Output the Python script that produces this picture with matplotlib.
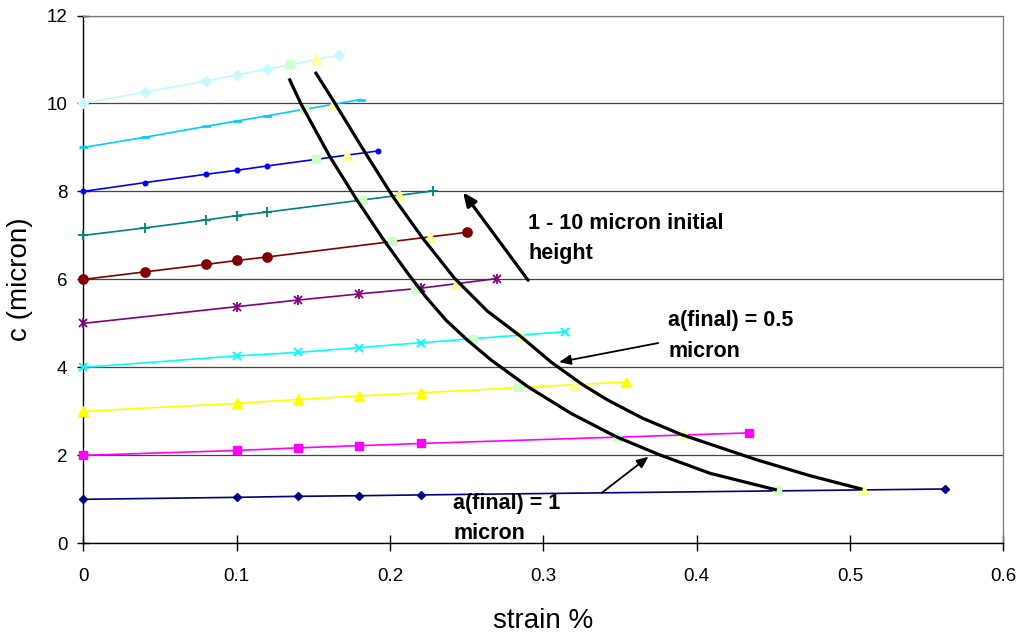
import matplotlib
matplotlib.use("Agg")
import matplotlib.pyplot as plt
import numpy as np

plt.rcParams['font.family'] = ['Liberation Sans', 'DejaVu Sans']

# ---- data: strain (x) and c in micron (y) for initial heights 1..10 micron ----
strain_h1 = [0, 0.1, 0.14, 0.18, 0.22, 0.562]
c_h1 = [1.0, 1.045, 1.068, 1.082, 1.10, 1.235]
strain_h2 = [0, 0.1, 0.14, 0.18, 0.22, 0.434]
c_h2 = [2.0, 2.11, 2.17, 2.22, 2.27, 2.51]
strain_h3 = [0, 0.1, 0.14, 0.18, 0.22, 0.354]
c_h3 = [3.0, 3.18, 3.27, 3.35, 3.42, 3.67]
strain_h4 = [0, 0.1, 0.14, 0.18, 0.22, 0.314]
c_h4 = [4.0, 4.26, 4.34, 4.45, 4.56, 4.81]
strain_h5 = [0, 0.1, 0.14, 0.18, 0.22, 0.27]
c_h5 = [5.0, 5.38, 5.53, 5.67, 5.80, 6.02]
strain_h6 = [0, 0.04, 0.08, 0.1, 0.12, 0.25]
c_h6 = [6.0, 6.17, 6.34, 6.43, 6.51, 7.07]
strain_h7 = [0, 0.04, 0.08, 0.1, 0.12, 0.228]
c_h7 = [7.0, 7.17, 7.35, 7.45, 7.53, 8.01]
strain_h8 = [0, 0.04, 0.08, 0.1, 0.12, 0.192]
c_h8 = [8.0, 8.20, 8.39, 8.48, 8.58, 8.92]
strain_h9 = [0, 0.04, 0.08, 0.1, 0.12, 0.181]
c_h9 = [9.0, 9.23, 9.48, 9.60, 9.72, 10.09]
strain_h10 = [0, 0.04, 0.08, 0.1, 0.12, 0.167]
c_h10 = [10.0, 10.26, 10.51, 10.65, 10.78, 11.10]

# intersection points: a(final) = 1 micron (squares) and 0.5 micron (triangles)
strain_a1 = [0.4523, 0.348, 0.2838, 0.2544, 0.2164, 0.201, 0.182, 0.1518, 0.1442, 0.1347]
c_a1 = [1.21, 2.42, 3.56, 4.64, 5.78, 6.87, 7.80, 8.73, 9.88, 10.89]
strain_a05 = [0.5082, 0.3918, 0.3203, 0.2855, 0.243, 0.226, 0.206, 0.172, 0.163, 0.152]
c_a05 = [1.227, 2.48, 3.60, 4.73, 5.89, 6.97, 7.93, 8.83, 9.98, 11.0]

# hand-drawn guide curves
curve1_x = [0.1342, 0.1418, 0.1609, 0.1785, 0.1960, 0.2115, 0.2235, 0.2365, 0.2505,
            0.2660, 0.2900, 0.3180, 0.3475, 0.3762, 0.4088, 0.4523]
curve1_y = [10.57, 10.00, 8.786, 7.802, 6.893, 6.143, 5.598, 5.075, 4.620,
            4.166, 3.559, 2.955, 2.423, 2.007, 1.591, 1.211]
curve2_x = [0.1512, 0.1642, 0.1831, 0.2020, 0.2213, 0.2420, 0.2635, 0.2850, 0.3051,
            0.3259, 0.3420, 0.3645, 0.3897, 0.4397, 0.4735, 0.5082]
curve2_y = [10.718, 10.0, 8.923, 7.877, 6.939, 6.030, 5.280, 4.711, 4.120,
            3.600, 3.257, 2.848, 2.477, 1.893, 1.541, 1.227]

x_ticks = [0, 0.1, 0.2, 0.3, 0.4, 0.5, 0.6]
x_tick_labels = ['0', '0.1', '0.2', '0.3', '0.4', '0.5', '0.6']
y_ticks = [0, 2, 4, 6, 8, 10, 12]
y_tick_labels = ['0', '2', '4', '6', '8', '10', '12']

fig = plt.figure(figsize=(10.21, 6.42), dpi=100)
W, H = 1021, 642
ax = fig.add_axes([83.3 / W, 1 - 543.3 / H, 920 / W, 527.8 / H])

dash = [(-1, -0.35), (1, -0.35), (1, 0.35), (-1, 0.35)]

series = [
    (strain_h1, c_h1, '#000080', 'D', 4.2, 1.0),
    (strain_h2, c_h2, '#FF00FF', 's', 6.3, 1.0),
    (strain_h3, c_h3, '#FFFF00', '^', 7.0, 1.0),
    (strain_h4, c_h4, '#00FFFF', 'x', 6.3, 1.4),
    (strain_h5, c_h5, '#800080', 'x', 6.3, 1.3),
    (strain_h6, c_h6, '#800000', 'o', 6.7, 1.0),
    (strain_h7, c_h7, '#008080', '+', 7.0, 1.3),
    (strain_h8, c_h8, '#0000FF', 'o', 3.3, 1.0),
    (strain_h9, c_h9, '#00CCFF', dash, 5.8, 0.5),
    (strain_h10, c_h10, '#C4FAFF', 'D', 5.3, 1.0),
]
for xs, ys, col, mk, ms, mew in series:
    ax.plot(xs, ys, color=col, lw=1.2, marker=mk, ms=ms, mfc=col, mec=col,
            mew=mew, zorder=3, clip_on=False)
# vertical bar of the asterisk marker for the 5 micron series
ax.plot(strain_h5, c_h5, ls='none', marker='|', ms=6.5, mew=1.3, color='#800080',
        zorder=3, clip_on=False)

ax.plot(strain_a1, c_a1, ls='none', marker='s', ms=6.0, mfc='#CCFFCC', mec='#CCFFCC',
        zorder=4)
ax.plot(strain_a05, c_a05, ls='none', marker='^', ms=6.5, mfc='#FFFF99', mec='#FFFF99',
        zorder=4)

ax.plot(curve1_x, curve1_y, color='black', lw=2.3, zorder=5,
        solid_capstyle='butt', solid_joinstyle='round')
ax.plot(curve2_x, curve2_y, color='black', lw=2.3, zorder=5,
        solid_capstyle='butt', solid_joinstyle='round')

# annotations
ax.annotate('', xy=(0.2477, 7.98), xytext=(0.2901, 5.98),
            arrowprops=dict(arrowstyle='-|>,head_length=0.8,head_width=0.35',
                            color='black', lw=2.3, shrinkA=0, shrinkB=0), zorder=6)
ax.annotate('', xy=(0.3103, 4.12), xytext=(0.3749, 4.553),
            arrowprops=dict(arrowstyle='-|>,head_length=0.7,head_width=0.3',
                            color='black', lw=1.3, shrinkA=0, shrinkB=0), zorder=6)
ax.annotate('', xy=(0.3686, 1.968), xytext=(0.3382, 1.150),
            arrowprops=dict(arrowstyle='-|>,head_length=0.7,head_width=0.3',
                            color='black', lw=1.3, shrinkA=0, shrinkB=0), zorder=6)

# multi-line texts: anchored at the baseline of their last line
tkw = dict(fontsize=15.5, fontweight='bold', ha='left', va='baseline',
           linespacing=1.58, zorder=7)
ax.text(0.2901, 6.455, '1 - 10 micron initial\nheight', **tkw)
ax.text(0.3814, 4.241, 'a(final) = 0.5\nmicron', **tkw)
ax.text(0.2412, 0.091, 'a(final) = 1\nmicron', **tkw)

ax.set_xlim(0, 0.6)
ax.set_ylim(0, 12)
ax.set_xticks(x_ticks)
ax.set_xticklabels(x_tick_labels)
ax.set_yticks(y_ticks)
ax.set_yticklabels(y_tick_labels)
ax.tick_params(axis='x', direction='inout', length=11, width=1, pad=12, labelsize=13.5)
ax.tick_params(axis='y', direction='inout', length=9, width=1, pad=7, labelsize=13.5)

ax.grid(axis='y', color='#444444', lw=0.9, zorder=0)
ax.set_axisbelow(True)
for s in ['top', 'right']:
    ax.spines[s].set_color('#777777')
    ax.spines[s].set_linewidth(0.9)
for s in ['left', 'bottom']:
    ax.spines[s].set_color('black')
    ax.spines[s].set_linewidth(1.0)
    ax.spines[s].set_zorder(2.5)

ax.set_xlabel('strain %', fontsize=20, labelpad=17)
ax.set_ylabel('c (micron)', fontsize=20, labelpad=10)

fig.savefig('out.png', dpi=100)
